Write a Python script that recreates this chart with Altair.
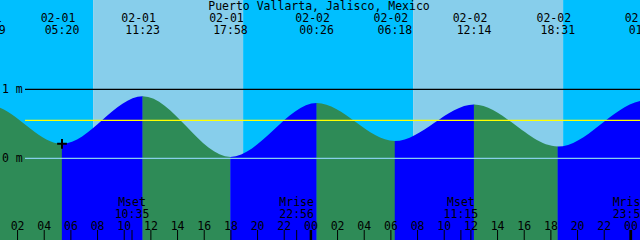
import altair as alt
import pandas as pd

TITLE = "Puerto Vallarta, Jalisco, Mexico"

# Tide extrema (date label, time, height in metres)
tide_dates = ["01-31", "02-01", "02-01", "02-01", "02-02", "02-02", "02-02", "02-02", "02-03"]
tide_times = ["23:49", "05:20", "11:23", "17:58", "00:26", "06:18", "12:14", "18:31", "01:08"]
tide_heights = [0.77, 0.21, 0.90, 0.02, 0.80, 0.25, 0.78, 0.17, 0.84]

# Sun
sunrise_dates = ["02-01", "02-02"]
sunrise_times = ["07:40", "07:40"]
sunset_dates = ["02-01", "02-02"]
sunset_times = ["18:55", "18:55"]

# Moon
moon_names = ["Mset", "Mrise", "Mset", "Mrise"]
moon_dates = ["02-01", "02-01", "02-02", "02-02"]
moon_times = ["10:35", "22:56", "11:15", "23:56"]

# Reference lines
ref_values = [1.0, 0.55, 0.0]
ref_colors = ["#000000", "#ffff00", "#87ceeb"]
ref_labels = ["1 m", "", "0 m"]

# Current-time marker
now_date, now_time, now_height = "02-01", "05:20", 0.21

# Window
start_date, start_time = "02-01", "00:41"
span_hours = 48
tick_hours = list(range(2, 50, 2))
y_min, y_max = -1.184, 2.294

DAY0 = {"01-31": -1, "02-01": 0, "02-02": 1, "02-03": 2}


def hrs(d, t):
    hh, mm = t.split(":")
    return DAY0[d] * 24 + int(hh) + int(mm) / 60.0


x0 = hrs(start_date, start_time)
x1 = x0 + span_hours

XS = alt.Scale(domain=[x0, x1], nice=False, zero=False)
YS = alt.Scale(domain=[y_min, y_max], nice=False, zero=False)
FONT = "DejaVu Sans Mono"
FS = 11.5

# ---- sky rectangles
rises = [hrs(d, t) for d, t in zip(sunrise_dates, sunrise_times)]
sets = [hrs(d, t) for d, t in zip(sunset_dates, sunset_times)]
edges = [x0 - 5]
kinds = []
for r, s in zip(rises, sets):
    edges += [r, s]
edges.append(x1 + 5)
sky_rows = []
for i in range(len(edges) - 1):
    sky_rows.append({"a": edges[i], "b": edges[i + 1],
                     "col": "#00bfff" if i % 2 == 0 else "#87ceeb"})
sky = alt.Chart(pd.DataFrame(sky_rows)).mark_rect(clip=True).encode(
    x=alt.X("a:Q", scale=XS, axis=None), x2="b:Q",
    y=alt.value(0), y2=alt.value(240),
    color=alt.Color("col:N", scale=None))

# ---- ground (tide) segments
th = [hrs(d, t) for d, t in zip(tide_dates, tide_times)]
eps = 0.01
seg_rows = []
for k in range(len(th) - 1):
    col = "#2e8b57" if tide_heights[k + 1] < tide_heights[k] else "#0000ff"
    pts = [(th[k] - eps, tide_heights[k]), (th[k], tide_heights[k]),
           (th[k + 1], tide_heights[k + 1]), (th[k + 1] + eps, tide_heights[k + 1])]
    for h, v in pts:
        seg_rows.append({"h": h, "v": v, "base": y_min, "seg": k, "col": col})
ground = alt.Chart(pd.DataFrame(seg_rows)).mark_area(
    interpolate="monotone", clip=True).encode(
    x=alt.X("h:Q", scale=XS, axis=None),
    y=alt.Y("v:Q", scale=YS, axis=None), y2="base:Q",
    color=alt.Color("col:N", scale=None), detail="seg:N")

# ---- reference lines
ref_df = pd.DataFrame({"v": ref_values, "col": ref_colors, "lab": ref_labels})
lines = alt.Chart(ref_df).mark_rule(strokeWidth=1.2).encode(
    x=alt.value(25), x2=alt.value(640),
    y=alt.Y("v:Q", scale=YS, axis=None),
    color=alt.Color("col:N", scale=None))
ref_text = alt.Chart(ref_df).mark_text(
    font=FONT, fontSize=FS, align="left", baseline="alphabetic", dy=4,
    color="black").encode(
    x=alt.value(2), y=alt.Y("v:Q", scale=YS, axis=None), text="lab:N")

# ---- current-time marker
now_df = pd.DataFrame({"h": [hrs(now_date, now_time)], "v": [now_height]})
marker = alt.Chart(now_df).mark_point(
    shape="M-1,0L1,0M0,-1L0,1", size=95, stroke="black", strokeWidth=2,
    filled=False, opacity=1).encode(
    x=alt.X("h:Q", scale=XS, axis=None), y=alt.Y("v:Q", scale=YS, axis=None))

# ---- tide labels on top
tl_df = pd.DataFrame({"h": th, "d": tide_dates, "t": tide_times})
tl_date = alt.Chart(tl_df).mark_text(
    font=FONT, fontSize=FS, align="center", baseline="alphabetic", dx=-4,
    color="black").encode(
    x=alt.X("h:Q", scale=XS, axis=None), y=alt.value(21.5), text="d:N")
tl_time = alt.Chart(tl_df).mark_text(
    font=FONT, fontSize=FS, align="center", baseline="alphabetic",
    color="black").encode(
    x=alt.X("h:Q", scale=XS, axis=None), y=alt.value(33.5), text="t:N")

title = alt.Chart(pd.DataFrame({"t": [TITLE]})).mark_text(
    font=FONT, fontSize=FS, align="center", baseline="alphabetic",
    color="black").encode(x=alt.value(319), y=alt.value(9.5), text="t:N")

# ---- hour axis
hr_df = pd.DataFrame({"h": tick_hours,
                      "lab": ["%02d" % (h % 24) for h in tick_hours],
                      "w": [2.5 if h % 24 == 0 else 1 for h in tick_hours]})
hr_text = alt.Chart(hr_df).mark_text(
    font=FONT, fontSize=FS, align="center", baseline="alphabetic",
    color="black").encode(
    x=alt.X("h:Q", scale=XS, axis=None), y=alt.value(229.5), text="lab:N")
hr_ticks = alt.Chart(hr_df).mark_rule(color="black").encode(
    x=alt.X("h:Q", scale=XS, axis=None), y=alt.value(230), y2=alt.value(240),
    strokeWidth=alt.StrokeWidth("w:Q", scale=None))

# ---- moon events
mh = [hrs(d, t) for d, t in zip(moon_dates, moon_times)]
mo_df = pd.DataFrame({"h": mh, "n": moon_names, "t": moon_times})
mo_name = alt.Chart(mo_df).mark_text(
    font=FONT, fontSize=FS, align="center", baseline="alphabetic",
    color="black").encode(
    x=alt.X("h:Q", scale=XS, axis=None), y=alt.value(206), text="n:N")
mo_time = alt.Chart(mo_df).mark_text(
    font=FONT, fontSize=FS, align="center", baseline="alphabetic",
    color="black").encode(
    x=alt.X("h:Q", scale=XS, axis=None), y=alt.value(218), text="t:N")
mo_ticks = alt.Chart(mo_df).mark_rule(color="black", strokeWidth=1).encode(
    x=alt.X("h:Q", scale=XS, axis=None), y=alt.value(230), y2=alt.value(240))

chart = alt.layer(
    sky, ground, lines, ref_text, marker, tl_date, tl_time, title,
    hr_text, hr_ticks, mo_name, mo_time, mo_ticks
).properties(
    width=640, height=240, padding=0, autosize=alt.AutoSizeParams(type="none")
).configure_view(stroke=None)

chart.save("out.html", embed_options={"renderer": "svg", "actions": False})
